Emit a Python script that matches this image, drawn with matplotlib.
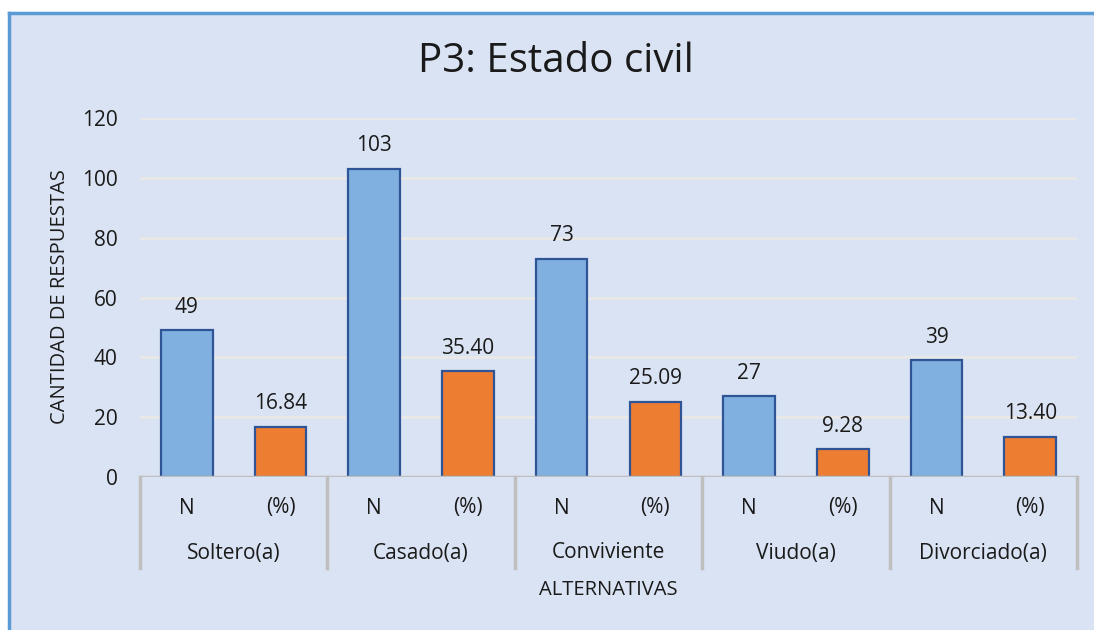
import matplotlib.pyplot as plt
from matplotlib.patches import Rectangle
from matplotlib.lines import Line2D

# Data
groups = ["Soltero(a)", "Casado(a)", "Conviviente", "Viudo(a)", "Divorciado(a)"]
sub_labels = ["N", "(%)"]
counts = [49, 103, 73, 27, 39]
percents = [16.84, 35.40, 25.09, 9.28, 13.40]
pct_labels = ["16.84", "35.40", "25.09", "9.28", "13.40"]

plt.rcParams['font.family'] = ['Open Sans', 'DejaVu Sans']

W, H = 1094, 630
fig = plt.figure(figsize=(W / 100, H / 100), dpi=100)
fig.patch.set_facecolor('white')

# chart background + blue border (top and left)
bg = '#DAE3F3'
fig.patches.append(Rectangle((9 / W, 0), 1 - 9 / W, 1 - 13 / H, transform=fig.transFigure,
                             facecolor=bg, edgecolor='none', zorder=-10))
fig.lines.append(Line2D([9 / W, 1], [1 - 13 / H, 1 - 13 / H], transform=fig.transFigure,
                        color='#5B9BD5', lw=2.5, zorder=-5))
fig.lines.append(Line2D([9 / W, 9 / W], [0, 1 - 13 / H], transform=fig.transFigure,
                        color='#5B9BD5', lw=2.5, zorder=-5))

x0, x1 = 140, 1077
y_top, y_bot = 118, 477
ax = fig.add_axes([x0 / W, 1 - y_bot / H, (x1 - x0) / W, (y_bot - y_top) / H])
ax.set_facecolor('none')
ax.set_zorder(2)

blue = '#7FB0E0'
orange = '#ED7D31'
edge = '#2F5597'
txt = '#1a1a1a'
fs = 15

n = len(groups)
xs_n = [2 * i for i in range(n)]
xs_p = [2 * i + 1 for i in range(n)]
bw = 0.55
ax.bar(xs_n, counts, width=bw, color=blue, edgecolor=edge, linewidth=1.6, zorder=3)
ax.bar(xs_p, percents, width=bw, color=orange, edgecolor=edge, linewidth=1.6, zorder=3)

for x, v in zip(xs_n, counts):
    ax.annotate(str(v), (x, v), xytext=(0, 9), textcoords='offset points',
                ha='center', va='bottom', fontsize=fs, color=txt)
for x, v, s in zip(xs_p, percents, pct_labels):
    ax.annotate(s, (x, v), xytext=(0, 9), textcoords='offset points',
                ha='center', va='bottom', fontsize=fs, color=txt)

ax.set_xlim(-0.5, 2 * n - 0.5)
ax.set_ylim(0, 120)
ax.set_yticks(range(0, 121, 20))
ax.tick_params(axis='y', length=0, pad=16, labelsize=fs, labelcolor=txt)
ax.set_xticks([])
ax.grid(axis='y', color='#E8E8E8', lw=2.2, zorder=1)
for s in ax.spines.values():
    s.set_visible(False)

# category axis: baseline, separators and labels
sep_col = '#BFBFBF'
ax.axhline(0, color=sep_col, lw=2.5, zorder=4)
trans = ax.get_xaxis_transform()
sep_bottom = -(568 - y_bot) / (y_bot - y_top)
for i in range(n + 1):
    xb = 2 * i - 0.5
    ax.plot([xb, xb], [0, sep_bottom], transform=trans, color=sep_col, lw=2.5,
            clip_on=False, zorder=4)

def yfrac(py):
    return -(py - y_bot) / (y_bot - y_top)

for i, g in enumerate(groups):
    for j, s in enumerate(sub_labels):
        ax.text(2 * i + j, yfrac(508), s, transform=trans, ha='center', va='center',
                fontsize=fs, color=txt)
    ax.text(2 * i + 0.5, yfrac(553), g, transform=trans, ha='center', va='center',
            fontsize=fs, color=txt)

ax.text(0.5, yfrac(590), "ALTERNATIVAS", transform=ax.transAxes, ha='center', va='center',
        fontsize=14.5, color=txt)

fig.text(60 / W, 1 - 297 / H, "CANTIDAD DE RESPUESTAS", rotation=90, ha='center',
         va='center', fontsize=14.5, color=txt)
fig.text(556 / W, 1 - 62 / H, "P3: Estado civil", ha='center', va='center',
         fontsize=29, color=txt)

fig.savefig('out.png', dpi=100)
